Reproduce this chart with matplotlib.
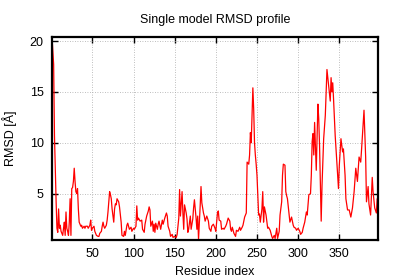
import matplotlib
matplotlib.use("Agg")
import matplotlib.pyplot as plt

# =========================
# RMSD per residue
# =========================
residue = [
    1, 2, 3, 4, 5, 6, 7, 8, 9, 10, 11, 12, 14, 15, 16, 17, 18, 19, 20, 21,
    22, 23, 24, 25, 26, 27, 28, 29, 30, 31, 32, 33, 34, 36, 37, 38, 40, 41, 42, 44,
    45, 47, 48, 49, 50, 52, 53, 54, 55, 57, 58, 59, 61, 62, 63, 64, 65, 67, 68, 69,
    71, 72, 73, 74, 76, 77, 78, 79, 80, 82, 83, 84, 85, 86, 88, 89, 90, 91, 92, 93,
    95, 97, 98, 100, 101, 103, 104, 105, 106, 108, 110, 111, 113, 114, 116, 118, 119, 120, 121, 123,
    124, 125, 126, 127, 129, 130, 131, 133, 135, 136, 138, 140, 141, 142, 144, 145, 147, 148, 150, 152,
    153, 155, 156, 157, 159, 160, 161, 162, 164, 165, 166, 167, 169, 170, 172, 173, 174, 176, 177, 178,
    179, 181, 182, 183, 185, 186, 187, 189, 191, 192, 194, 195, 197, 199, 200, 202, 203, 204, 206, 207,
    209, 210, 212, 213, 215, 217, 218, 219, 220, 222, 224, 225, 227, 229, 230, 232, 233, 235, 237, 238,
    240, 241, 242, 243, 244, 245, 246, 247, 248, 249, 250, 251, 252, 253, 254, 256, 257, 258, 259, 261,
    263, 264, 266, 268, 269, 271, 272, 274, 275, 277, 278, 280, 281, 282, 284, 285, 286, 287, 289, 290,
    292, 294, 295, 297, 298, 300, 302, 303, 305, 306, 308, 310, 311, 313, 315, 316, 317, 318, 319, 320,
    322, 324, 325, 326, 328, 329, 331, 333, 335, 337, 339, 340, 341, 342, 343, 345, 347, 349, 350, 352,
    354, 355, 357, 358, 360, 362, 364, 366, 368, 370, 372, 374, 376, 377, 380, 382, 383, 385, 386, 388,
    390, 391, 393, 395, 396, 397,
]
rmsd = [
    20.4, 19.0, 17.7, 10.7, 7.5, 4.2, 1.6, 1.2, 3.5, 1.6, 1.9, 1.3, 0.9, 1.6, 2.2, 0.9, 3.2, 1.6, 1.3, 0.9,
    2.2, 4.5, 0.9, 5.5, 5.6, 6.2, 7.5, 6.2, 5.2, 5.0, 5.5, 3.5, 2.2, 1.8, 1.9, 1.6, 1.8, 1.6, 1.8, 1.8,
    1.6, 1.9, 2.4, 1.4, 1.6, 1.8, 1.3, 1.1, 0.9, 0.8, 0.8, 1.1, 1.3, 1.8, 2.2, 1.8, 1.6, 1.9, 2.4, 3.2,
    5.2, 4.9, 4.5, 3.5, 2.2, 3.5, 4.0, 3.9, 4.5, 4.2, 3.7, 2.9, 2.2, 0.9, 0.8, 1.3, 0.9, 1.4, 1.9, 2.1,
    1.5, 1.7, 1.3, 1.6, 1.5, 1.8, 3.8, 2.4, 2.6, 2.3, 2.4, 1.5, 1.2, 2.0, 2.8, 3.3, 3.7, 3.4, 1.8, 2.3,
    1.3, 2.0, 1.2, 2.1, 1.5, 2.0, 2.3, 1.5, 2.4, 2.0, 2.6, 3.1, 2.8, 1.8, 1.3, 0.8, 1.0, 0.7, 0.8, 0.7,
    1.0, 2.6, 5.4, 2.8, 5.2, 3.1, 1.5, 3.9, 3.1, 2.5, 1.2, 1.5, 2.8, 1.5, 2.5, 3.6, 4.4, 2.6, 1.5, 2.8,
    0.5, 3.8, 5.7, 4.1, 3.1, 2.8, 2.3, 2.8, 2.3, 1.6, 1.3, 1.8, 2.0, 1.6, 1.3, 3.1, 3.3, 2.4, 2.3, 1.5,
    1.6, 1.5, 1.8, 2.0, 2.6, 2.3, 1.5, 1.3, 1.7, 1.1, 0.8, 1.4, 1.3, 1.7, 1.4, 1.7, 1.9, 2.7, 3.1, 8.1,
    7.9, 8.8, 11.0, 10.0, 12.7, 15.4, 13.3, 10.0, 8.8, 7.9, 6.8, 4.8, 2.9, 3.0, 2.2, 3.5, 5.2, 2.2, 3.7, 2.9,
    1.6, 1.7, 1.4, 0.8, 0.6, 0.9, 0.6, 1.6, 0.6, 1.3, 2.9, 4.2, 6.8, 7.9, 7.8, 5.2, 4.8, 4.5, 2.9, 2.2,
    2.7, 1.9, 1.7, 1.6, 1.4, 1.6, 1.3, 1.0, 1.2, 1.6, 2.2, 3.2, 2.9, 4.9, 5.0, 6.8, 10.1, 10.9, 8.8, 12.0,
    7.3, 13.8, 12.4, 9.7, 2.3, 5.8, 10.4, 12.7, 17.2, 15.6, 14.1, 16.4, 15.0, 15.9, 14.3, 10.7, 8.1, 5.5, 7.8, 10.4,
    9.1, 9.4, 6.8, 4.5, 3.4, 3.4, 2.7, 3.6, 5.2, 7.5, 6.2, 8.6, 8.1, 9.3, 13.2, 8.6, 4.2, 5.7, 4.0, 2.9,
    6.6, 5.2, 3.6, 3.1, 4.5, 3.5,
]

x_ticks = [50, 100, 150, 200, 250, 300, 350]
y_ticks = [5, 10, 15, 20]

plt.rcParams["font.family"] = ["Liberation Sans", "DejaVu Sans"]
plt.rcParams["font.size"] = 9

fig = plt.figure(figsize=(4.0, 2.8), dpi=100)
ax = fig.add_axes([0.13, 0.143, 0.815, 0.725])

ax.plot(residue, rmsd, color="#ff0000", linewidth=0.9)

ax.set_xlim(1, 397)
ax.set_ylim(0.45, 20.4)
ax.set_xticks(x_ticks)
ax.set_yticks(y_ticks)

# gnuplot look: inward ticks on all sides, dotted grid, heavy border
ax.tick_params(direction="in", length=4, width=1.0, top=True, right=True,
               labelsize=9, pad=6)
ax.grid(True, color="#a8a8a8", linestyle=(0, (1, 2)), linewidth=0.6)
for sp in ax.spines.values():
    sp.set_linewidth(1.6)

ax.set_title("Single model RMSD profile", fontsize=9, pad=10)
ax.set_xlabel("Residue index", fontsize=9, labelpad=4)
ax.set_ylabel("RMSD [Å]", fontsize=9, labelpad=9)

fig.savefig("out.png", dpi=100)
